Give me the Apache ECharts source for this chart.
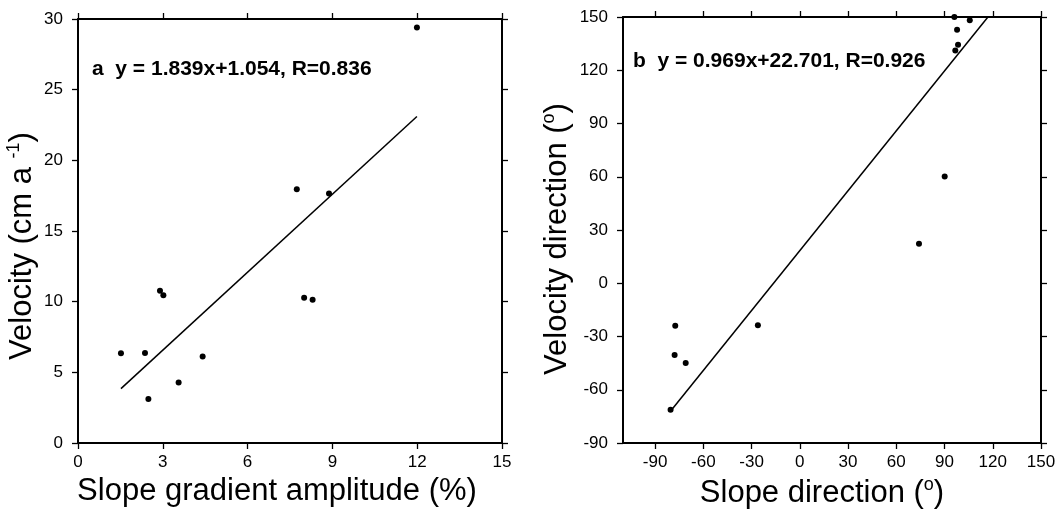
<!DOCTYPE html>
<html>
<head>
<meta charset="utf-8">
<script src="https://cdn.jsdelivr.net/npm/echarts@6/dist/echarts.min.js"></script>
<style>
html,body{margin:0;padding:0;background:#fff;}
#chart{width:1056px;height:509px;}
</style>
</head>
<body>
<div id="chart"></div>
<script>
// ---- Panel a data ----
const gradientX = [1.52, 2.37, 2.49, 2.90, 3.02, 3.56, 4.41, 7.74, 8.00, 8.30, 8.88, 11.99];
const velocityY = [6.35, 6.37, 3.12, 10.77, 10.46, 4.28, 6.12, 17.95, 10.27, 10.13, 17.66, 29.39];
const fitAX = [1.52, 11.99];
const fitAY = [3.85, 23.10];
const ticksAX = [0, 3, 6, 9, 12, 15];
const ticksAY = [0, 5, 10, 15, 20, 25, 30];
const labelA = 'a  y = 1.839x+1.054, R=0.836';

// ---- Panel b data ----
const slopeDirX = [-80.4, -77.5, -77.9, -71.0, -26.1, 74.1, 90.1, 96.1, 105.7, 97.8, 98.4, 96.7];
const velDirY = [-71.2, -24.0, -40.4, -44.9, -23.6, 22.3, 60.1, 150, 148.1, 142.8, 134.3, 131.1];
const fitBX = [-79.1, 117.0];
const fitBY = [-70.6, 150];
const ticksBX = [-90, -60, -30, 0, 30, 60, 90, 120, 150];
const ticksBY = [-90, -60, -30, 0, 30, 60, 90, 120, 150];
const labelB = 'b  y = 0.969x+22.701, R=0.926';

const FONT = 'Liberation Sans, Arial, Helvetica, sans-serif';

function pairs(xs, ys) { return xs.map((x, i) => [x, ys[i]]); }

function axis(opts) {
  const o = {
    type: 'value',
    gridIndex: opts.grid,
    position: opts.position,
    min: opts.min,
    max: opts.max,
    scale: true,
    axisLine: { show: true, onZero: false, lineStyle: { color: '#000', width: 2 } },
    axisTick: { show: true, inside: false, length: 6, lineStyle: { color: '#000', width: 1.3 },
                customValues: opts.ticks },
    splitLine: { show: false },
    axisLabel: {
      show: !!opts.labels,
      customValues: opts.ticks,
      color: '#000',
      fontFamily: FONT,
      fontSize: 17,
      margin: opts.margin || 11,
      showMinLabel: true,
      showMaxLabel: true,
      hideOverlap: false
    },
    axisPointer: { show: false }
  };
  if (opts.name) {
    o.name = opts.name;
    o.nameLocation = 'middle';
    o.nameGap = opts.nameGap;
    o.nameTextStyle = {
      color: '#000', fontFamily: FONT, fontSize: 31, padding: opts.namePadding || 0,
      rich: {
        n: { fontFamily: FONT, fontSize: 31, color: '#000' },
        s: { fontFamily: FONT, fontSize: 18, color: '#000', padding: [0, 0, 16, 0] }
      }
    };
  }
  return o;
}

const chart = echarts.init(document.getElementById('chart'), null, { renderer: 'canvas' });

const option = {
  animation: false,
  backgroundColor: '#fff',
  grid: [
    { left: 78, top: 19, width: 424, height: 424, containLabel: false, outerBoundsMode: 'none' },
    { left: 623, top: 17, width: 418, height: 426, containLabel: false, outerBoundsMode: 'none' }
  ],
  xAxis: [
    axis({ grid: 0, position: 'bottom', min: 0, max: 15, ticks: ticksAX, labels: true,
           name: '{n|Slope gradient amplitude (%)}', nameGap: 33, namePadding: [0, 26, 0, 0] }),
    axis({ grid: 0, position: 'top', min: 0, max: 15, ticks: ticksAX, labels: false }),
    axis({ grid: 1, position: 'bottom', min: -110, max: 150, ticks: ticksBX, labels: true,
           name: '{n|Slope direction (}{s|o}{n|)}', nameGap: 33, namePadding: [0, 20, 0, 0] }),
    axis({ grid: 1, position: 'top', min: -110, max: 150, ticks: ticksBX, labels: false })
  ],
  yAxis: [
    axis({ grid: 0, position: 'left', min: 0, max: 30, ticks: ticksAY, labels: true, margin: 15,
           name: '{n|Velocity (cm a }{s|-1}{n|)}', nameGap: 39, namePadding: [0, 30, 0, 0] }),
    axis({ grid: 0, position: 'right', min: 0, max: 30, ticks: ticksAY, labels: false }),
    axis({ grid: 1, position: 'left', min: -90, max: 150, ticks: ticksBY, labels: true, margin: 15,
           name: '{n|Velocity direction (}{s|o}{n|)}', nameGap: 49, namePadding: [0, 18, 0, 0] }),
    axis({ grid: 1, position: 'right', min: -90, max: 150, ticks: ticksBY, labels: false })
  ],
  series: [
    { type: 'line', xAxisIndex: 0, yAxisIndex: 0, data: pairs(fitAX, fitAY), symbol: 'none',
      lineStyle: { color: '#000', width: 1.5 }, silent: true, z: 3 },
    { type: 'scatter', xAxisIndex: 0, yAxisIndex: 0, data: pairs(gradientX, velocityY),
      symbol: 'circle', symbolSize: 6, itemStyle: { color: '#000', opacity: 1 }, silent: true, z: 4 },
    { type: 'line', xAxisIndex: 2, yAxisIndex: 2, data: pairs(fitBX, fitBY), symbol: 'none',
      lineStyle: { color: '#000', width: 1.5 }, silent: true, z: 3 },
    { type: 'scatter', xAxisIndex: 2, yAxisIndex: 2, data: pairs(slopeDirX, velDirY),
      symbol: 'circle', symbolSize: 6, itemStyle: { color: '#000', opacity: 1 }, silent: true, z: 4 }
  ],
  graphic: [
    { type: 'text', left: 92, top: 59, silent: true,
      style: { text: labelA, fill: '#000', font: 'bold 21px ' + FONT } },
    { type: 'text', left: 633, top: 51, silent: true,
      style: { text: labelB, fill: '#000', font: 'bold 21px ' + FONT } }
  ]
};

chart.setOption(option);
</script>
</body>
</html>
